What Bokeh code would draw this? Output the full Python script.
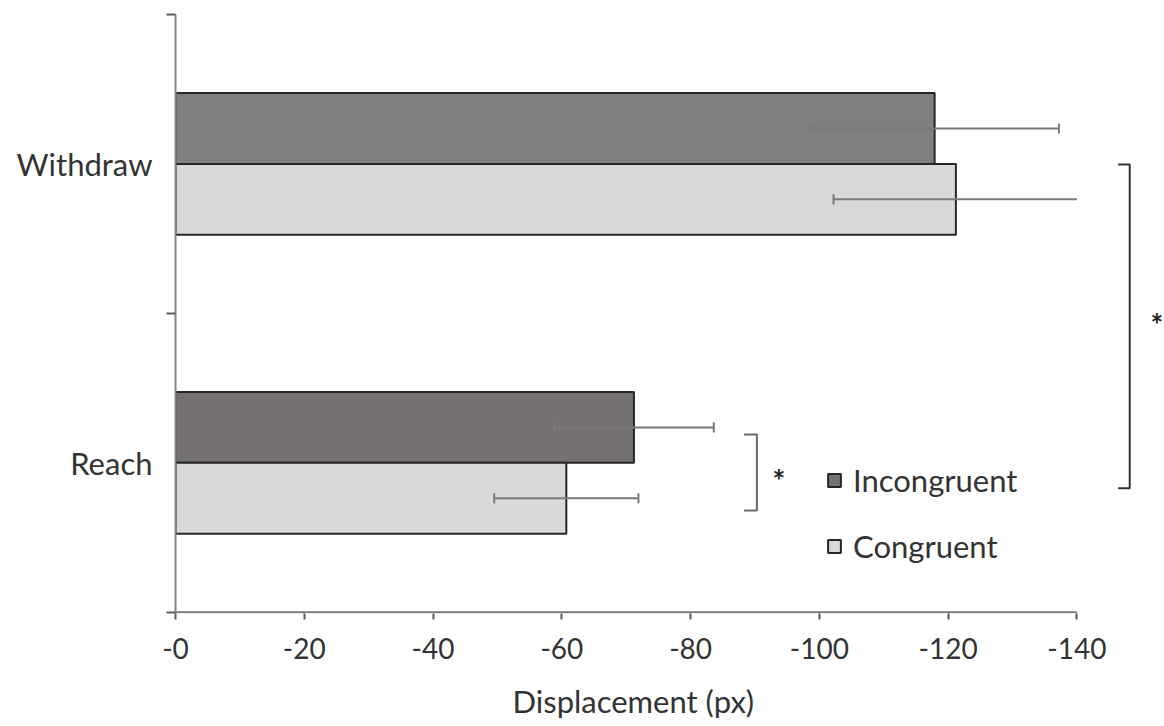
from bokeh.plotting import figure
from bokeh.models import Range1d, FixedTicker, Legend, LegendItem, Title
from bokeh.core.properties import value
from bokeh.embed import file_html
from bokeh.resources import INLINE

# ---- data ----
categories = ["Reach", "Withdraw"]
incongruent = [-71.2, -117.9]
congruent = [-60.7, -121.2]
incongruent_err = [12.4, 19.3]
congruent_err = [11.2, 19.0]
x_ticks = [0, -20, -40, -60, -80, -100, -120, -140]
x_tick_labels = ["-0", "-20", "-40", "-60", "-80", "-100", "-120", "-140"]
series_names = ["Incongruent", "Congruent"]
x_title = "Displacement (px)"

# ---- style ----
FONT = "Lato"
TXT = "#333333"
inc_colors = ["#767171", "#7f7f7f"]
con_color = "#d9d9d9"
bar_h = 0.237
axis_max = x_ticks[-1]

cat_pos = [i + 0.5 for i in range(len(categories))]

p = figure(width=1164, height=726, output_backend="svg", toolbar_location=None,
           x_range=Range1d(0, -153.6), y_range=Range1d(-0.004, 2.0),
           min_border_left=175, min_border_right=0, min_border_top=14,
           min_border_bottom=113)
p.outline_line_color = None
p.grid.visible = False
p.background_fill_color = "white"
p.border_fill_color = "white"

# bars
r_inc = p.hbar(y=[c + bar_h / 2 for c in cat_pos], left=0, right=incongruent, height=bar_h,
               fill_color=inc_colors, line_color="#262626", line_width=2)
r_con = p.hbar(y=[c - bar_h / 2 for c in cat_pos], left=0, right=congruent, height=bar_h,
               fill_color=con_color, line_color="#262626", line_width=2)

# error bars (clipped at axis end like the source)
cap = 0.017
err_col = "#7a7a7a"
for vals, errs, off in [(incongruent, incongruent_err, bar_h / 2), (congruent, congruent_err, -bar_h / 2)]:
    ys = [c + off for c in cat_pos]
    lo = [v + e for v, e in zip(vals, errs)]
    hi = [v - e for v, e in zip(vals, errs)]
    hi_c = [max(h, axis_max) for h in hi]
    p.segment(x0=lo, y0=ys, x1=hi_c, y1=ys, line_color=err_col, line_width=2)
    p.segment(x0=lo, y0=[y - cap for y in ys], x1=lo, y1=[y + cap for y in ys],
              line_color=err_col, line_width=2)
    hx = [h for h in hi if h >= axis_max]
    hy = [y for h, y in zip(hi, ys) if h >= axis_max]
    if hx:
        p.segment(x0=hx, y0=[y - cap for y in hy], x1=hx, y1=[y + cap for y in hy],
                  line_color=err_col, line_width=2)

# x axis line (only up to the last tick)
p.segment(x0=[0], y0=[0], x1=[axis_max], y1=[0], line_color="#7a7a7a", line_width=2)

# significance brackets
def bracket(x_in, x_out, y_top, y_bot, color):
    p.line([x_in, x_out, x_out, x_in], [y_top, y_top, y_bot, y_bot],
           line_color=color, line_width=2)

bracket(-88.3, -90.3, 0.595, 0.341, "#6a6a6a")
bracket(-146.4, -148.2, 1.498, 0.415, "#333333")
p.text(x=[-93.7, -152.4], y=[0.444, 0.963], text=["*", "*"], text_font=value(FONT),
       text_font_size="30px", text_font_style="bold", text_align="center",
       text_baseline="alphabetic", text_color="#222222")

# axes
xa = p.xaxis[0]
xa.ticker = FixedTicker(ticks=x_ticks)
xa.major_label_overrides = {t: l for t, l in zip(x_ticks, x_tick_labels)}
xa.axis_line_color = None
xa.major_tick_out = 6
xa.major_tick_in = 0
xa.major_tick_line_color = "#595959"
xa.major_tick_line_width = 2
xa.minor_tick_line_color = None
xa.major_label_text_font = FONT
xa.major_label_text_font_size = "28px"
xa.major_label_text_color = TXT
xa.major_label_standoff = 18
# small spacer so the title sits lower, as in the source
xa.axis_label = " "
xa.axis_label_text_font_size = "10px"
xa.axis_label_standoff = 4

ya = p.yaxis[0]
ya.ticker = FixedTicker(ticks=cat_pos, minor_ticks=[0, 1, 2])
ya.major_label_overrides = {c: n for c, n in zip(cat_pos, categories)}
ya.major_tick_out = 0
ya.major_tick_in = 0
ya.major_tick_line_color = None
ya.minor_tick_out = 9
ya.minor_tick_in = 0
ya.minor_tick_line_color = "#595959"
ya.minor_tick_line_width = 2
ya.axis_line_color = "#858585"
ya.axis_line_width = 2
ya.major_label_text_font = FONT
ya.major_label_text_font_size = "31px"
ya.major_label_text_color = TXT
ya.major_label_standoff = 14

t = Title(text=x_title, align="left", offset=337, standoff=0, text_font=FONT,
          text_font_size="31px", text_font_style="normal", text_color=TXT)
p.add_layout(t, "below")

legend = Legend(items=[LegendItem(label=series_names[0], renderers=[r_inc]),
                       LegendItem(label=series_names[1], renderers=[r_con])],
                location=(651, 48), orientation="vertical",
                background_fill_alpha=0, border_line_color=None,
                padding=0, margin=0, spacing=28, glyph_width=16, glyph_height=16,
                label_height=38, label_standoff=11, label_text_font=FONT,
                label_text_font_size="31px", label_text_color=TXT)
p.add_layout(legend)

open("out.html", "w").write(file_html(p, INLINE))
